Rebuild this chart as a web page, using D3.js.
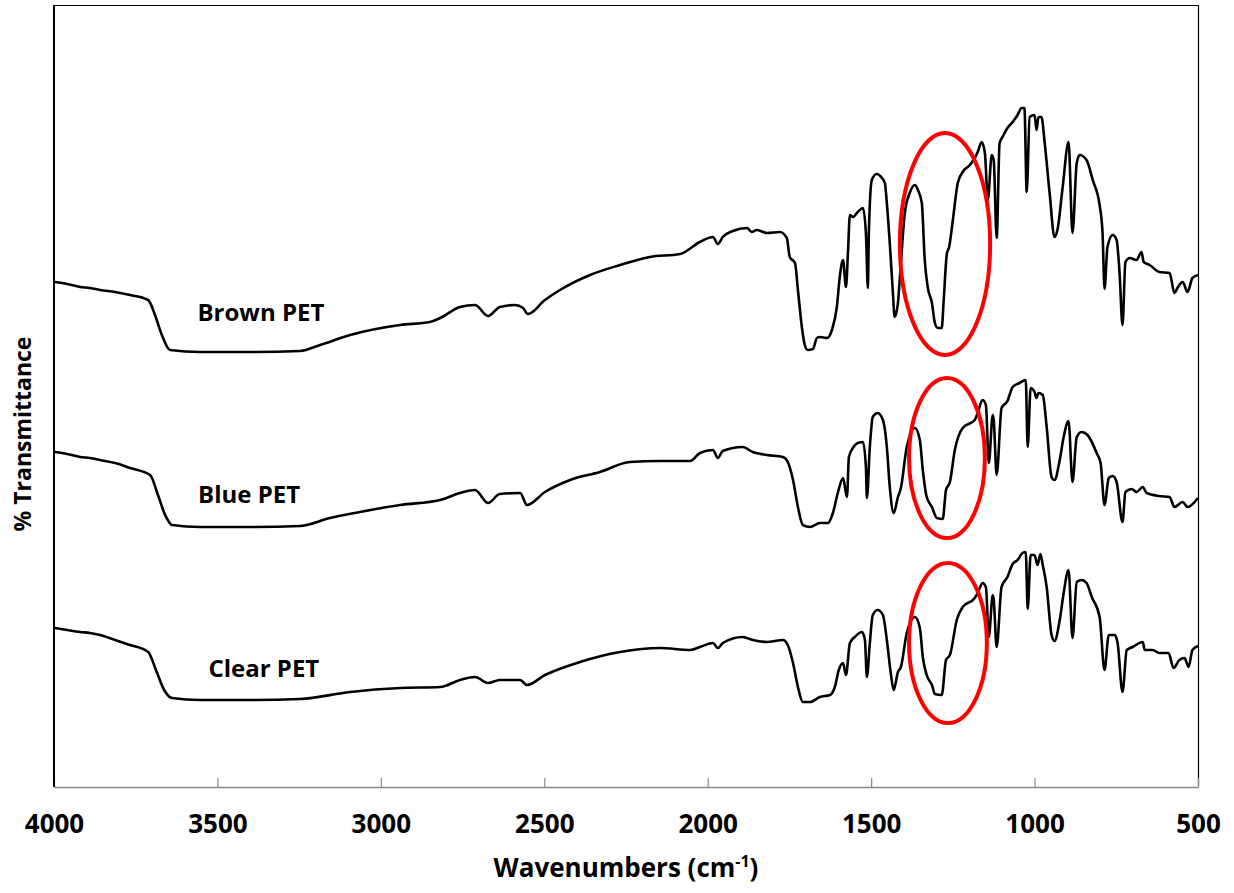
<!DOCTYPE html>
<html>
<head>
<meta charset="utf-8">
<script src="https://cdn.jsdelivr.net/npm/d3@7/dist/d3.min.js"></script>
<style>
  body { margin: 0; background: #fff; }
  text { font-family: "Open Sans", "DejaVu Sans", sans-serif; font-weight: bold; fill: #000; }
</style>
</head>
<body>
<div id="chart"></div>
<script>
// Spektren: [Wellenzahl, %T (beliebige Einheit, mit Versatz)]
const brownPET = [
  [3997, 50.5], [3960, 50.3], [3920, 50.0], [3890, 49.9], [3859, 49.7], [3813, 49.5], [3767, 49.2], [3712, 48.7],
  [3691, 47.2], [3670, 45.2], [3645, 43.7], [3553, 43.5], [3400, 43.5], [3247, 43.6],
  [3186, 44.2], [3094, 45.2], [2941, 46.2], [2850, 46.5], [2819, 46.9], [2758, 48.0],
  [2712, 48.2], [2672, 47.1], [2636, 48.0], [2590, 48.2], [2565, 47.9], [2550, 47.3],
  [2498, 48.7], [2452, 49.7], [2360, 51.2], [2268, 52.2], [2177, 53.0], [2085, 53.3],
  [2024, 54.5], [1984, 55.0], [1969, 54.3], [1954, 55.0], [1923, 55.6], [1880, 55.9],
  [1865, 55.5], [1850, 55.7], [1819, 55.4], [1779, 55.5], [1758, 54.9], [1749, 53.0],
  [1733, 52.4], [1724, 49.7], [1712, 46.0], [1703, 44.2], [1694, 43.7], [1678, 43.8],
  [1666, 44.9], [1657, 45.0], [1635, 44.9], [1620, 45.7], [1605, 48.0], [1596, 51.0],
  [1586, 52.7], [1577, 50.0], [1571, 53.4], [1565, 57.2], [1556, 57.0], [1541, 57.5],
  [1525, 57.9], [1516, 55.4], [1510, 49.9], [1507, 55.4], [1498, 60.7], [1483, 61.3],
  [1467, 60.9], [1458, 60.4], [1452, 58.4], [1443, 54.4], [1434, 49.7], [1428, 47.0],
  [1418, 48.4], [1412, 51.0], [1397, 57.4], [1382, 59.4], [1366, 60.2], [1357, 59.7],
  [1345, 58.4], [1336, 52.7], [1327, 50.0], [1314, 48.4], [1305, 46.4], [1296, 45.9],
  [1284, 45.9], [1278, 48.7], [1268, 53.4], [1262, 53.9], [1250, 56.7], [1235, 60.4],
  [1220, 61.5], [1198, 62.2], [1183, 62.9], [1174, 63.5], [1162, 64.5], [1152, 63.4],
  [1143, 58.7], [1131, 63.2], [1125, 62.7], [1116, 54.9], [1107, 64.4], [1098, 65.0],
  [1083, 65.9], [1067, 66.5], [1052, 67.2], [1040, 67.9], [1031, 67.9], [1024, 59.5],
  [1015, 67.0], [1000, 67.2], [994, 65.7], [988, 67.0], [979, 67.0], [969, 64.4],
  [954, 59.4], [939, 55.0], [930, 55.7], [914, 60.0], [896, 64.5], [884, 55.4],
  [871, 62.4], [862, 63.2], [841, 62.7], [822, 60.7], [801, 58.2], [792, 55.4],
  [786, 49.8], [777, 54.0], [761, 55.2], [749, 54.7], [740, 51.4], [731, 46.2],
  [722, 52.5], [709, 52.9], [688, 52.7], [673, 53.5], [666, 52.5], [648, 52.2],
  [618, 51.5], [587, 51.4], [572, 49.4], [563, 49.9], [547, 50.5], [532, 49.5],
  [517, 50.9], [500, 51.2]
];

const bluePET = [
  [3997, 33.5], [3960, 33.3], [3920, 33.0], [3890, 32.9], [3859, 32.7], [3813, 32.4], [3767, 31.9], [3706, 31.2],
  [3682, 29.2], [3660, 27.2], [3639, 26.2], [3553, 26.0], [3400, 26.0], [3247, 26.1],
  [3156, 26.9], [3064, 27.5], [2941, 28.2], [2819, 28.7], [2758, 29.4], [2712, 29.7],
  [2672, 28.4], [2636, 29.3], [2574, 29.4], [2553, 28.2], [2498, 29.5], [2421, 30.7],
  [2330, 31.5], [2238, 32.5], [2146, 32.6], [2054, 32.6], [2024, 33.4], [1984, 33.7],
  [1969, 32.9], [1954, 33.6], [1893, 34.0], [1862, 33.5], [1819, 33.2], [1770, 33.0],
  [1755, 32.5], [1739, 30.7], [1724, 28.0], [1709, 26.2], [1687, 26.0], [1657, 26.4],
  [1632, 26.4], [1617, 27.4], [1602, 29.4], [1586, 30.9], [1574, 29.0], [1568, 33.0],
  [1556, 33.9], [1541, 34.4], [1525, 34.5], [1516, 32.0], [1513, 28.9], [1504, 34.0],
  [1495, 37.0], [1480, 37.4], [1464, 36.7], [1452, 34.0], [1443, 30.0], [1431, 27.4],
  [1418, 29.0], [1409, 29.9], [1391, 34.0], [1366, 35.9], [1351, 34.7], [1342, 31.7],
  [1330, 29.0], [1314, 28.0], [1299, 26.9], [1281, 26.8], [1271, 29.7], [1259, 30.5],
  [1244, 33.7], [1220, 35.9], [1183, 36.7], [1174, 37.4], [1159, 38.7], [1149, 38.2],
  [1140, 32.4], [1128, 37.2], [1125, 36.7], [1116, 31.2], [1101, 37.9], [1083, 38.6],
  [1067, 40.0], [1046, 40.4], [1027, 40.7], [1021, 34.0], [1012, 39.9], [1000, 39.5],
  [994, 38.9], [988, 39.4], [975, 39.2], [963, 36.0], [948, 31.0], [939, 30.7],
  [923, 32.7], [911, 35.0], [896, 36.6], [884, 30.5], [871, 35.0], [856, 35.5],
  [838, 35.2], [810, 33.4], [798, 32.4], [786, 28.2], [773, 30.9], [761, 31.1],
  [749, 30.5], [731, 26.5], [722, 29.5], [703, 29.8], [688, 29.5], [669, 30.0],
  [657, 29.4], [618, 29.1], [587, 29.0], [572, 28.0], [547, 28.5], [532, 28.0],
  [500, 28.9]
];

const clearPET = [
  [3997, 15.9], [3960, 15.7], [3920, 15.5], [3890, 15.4], [3859, 15.2], [3813, 14.7], [3767, 14.2], [3712, 13.5],
  [3688, 11.7], [3663, 9.7], [3639, 8.9], [3553, 8.7], [3400, 8.7], [3247, 8.8],
  [3094, 9.5], [2941, 9.9], [2819, 10.0], [2758, 10.7], [2712, 11.0], [2672, 10.4],
  [2636, 10.7], [2574, 10.7], [2553, 10.2], [2498, 11.2], [2391, 12.5], [2268, 13.5],
  [2146, 13.9], [2054, 13.7], [2024, 14.0], [1984, 14.4], [1969, 13.9], [1954, 14.4],
  [1893, 15.0], [1862, 14.7], [1819, 14.5], [1770, 14.7], [1755, 14.2], [1739, 12.4],
  [1724, 10.0], [1709, 8.5], [1687, 8.5], [1657, 9.0], [1626, 9.2], [1611, 10.0],
  [1599, 11.7], [1586, 12.4], [1577, 11.2], [1565, 14.4], [1550, 15.0], [1528, 15.5],
  [1519, 14.7], [1513, 11.0], [1504, 14.4], [1495, 17.2], [1480, 17.7], [1464, 17.2],
  [1452, 14.7], [1440, 11.4], [1431, 9.7], [1418, 11.5], [1409, 12.0], [1391, 15.4],
  [1366, 17.0], [1351, 15.9], [1342, 13.0], [1330, 11.2], [1314, 10.2], [1305, 9.3],
  [1284, 9.2], [1271, 12.7], [1259, 13.2], [1238, 16.7], [1220, 18.0], [1183, 18.9],
  [1174, 19.4], [1159, 20.4], [1149, 20.0], [1140, 15.0], [1128, 19.2], [1125, 18.7],
  [1116, 14.0], [1101, 20.0], [1083, 21.0], [1067, 22.3], [1052, 22.7], [1037, 23.4],
  [1027, 23.5], [1021, 17.8], [1012, 23.2], [1000, 23.2], [991, 22.2], [982, 23.3],
  [975, 22.2], [963, 20.0], [948, 15.2], [939, 14.6], [923, 16.7], [911, 19.4],
  [896, 21.7], [884, 14.9], [871, 20.5], [856, 20.7], [841, 20.4], [825, 19.0],
  [801, 17.0], [786, 11.7], [773, 15.2], [755, 15.2], [746, 14.4], [731, 9.5],
  [718, 13.7], [700, 14.0], [669, 14.5], [663, 13.7], [639, 13.7], [618, 13.4],
  [590, 13.4], [575, 11.9], [557, 12.7], [541, 12.9], [529, 12.0], [517, 13.7],
  [500, 14.1]
];

const spectra = [brownPET, bluePET, clearPET];

// Beschriftungen: [Text, Wellenzahl (Mitte), %T (Grundlinie)]
const labels = [
  ["Brown PET", 3367, 46.6],
  ["Blue PET", 3403, 28.4],
  ["Clear PET", 3358, 11.0]
];

// rote Ellipsen: [Wellenzahl, %T, Radius Wellenzahl, Radius %T]
const circles = [
  [1274, 54.3, 138, 11.1],
  [1268, 32.9, 116, 8.0],
  [1265, 14.4, 119, 8.0]
];

const xTicks = [4000, 3500, 3000, 2500, 2000, 1500, 1000, 500];

const W = 1234, H = 893;
const mLeft = 54, mRight = 1198, mTop = 5, mBottom = 787;

const svg = d3.select("#chart").append("svg")
  .attr("width", W)
  .attr("height", H);

const x = d3.scaleLinear().domain([4000, 500]).range([mLeft, mRight]);
const y = d3.scaleLinear().domain([0, 78.2]).range([mBottom, mTop]);

// Rahmen oben / rechts
svg.append("line").attr("x1", mLeft).attr("x2", mRight).attr("y1", mTop + 0.5).attr("y2", mTop + 0.5)
  .attr("stroke", "#000").attr("stroke-width", 1.2);
svg.append("line").attr("x1", mRight + 0.5).attr("x2", mRight + 0.5).attr("y1", mTop).attr("y2", mBottom)
  .attr("stroke", "#000").attr("stroke-width", 1.2);

// x-Achse (grau, Ticks nach innen)
const xAxis = svg.append("g")
  .attr("transform", `translate(0,${mBottom})`)
  .call(d3.axisBottom(x).tickValues(xTicks).tickFormat(d3.format("d"))
    .tickSizeInner(-9).tickSizeOuter(0).tickPadding(28));
xAxis.select(".domain").attr("stroke", "#888").attr("stroke-width", 1.5);
xAxis.selectAll(".tick line").attr("stroke", "#888").attr("stroke-width", 1.2);
xAxis.selectAll(".tick text")
  .attr("font-size", 26)
  .attr("font-family", "'Open Sans', sans-serif")
  .attr("font-weight", "bold")
  .attr("fill", "#000");

// linke Achse
svg.append("line").attr("x1", mLeft).attr("x2", mLeft).attr("y1", mTop).attr("y2", mBottom)
  .attr("stroke", "#000").attr("stroke-width", 2);

// Spektren
const line = d3.line().x(d => x(d[0])).y(d => y(d[1])).curve(d3.curveMonotoneX);
spectra.forEach(s => {
  svg.append("path")
    .datum(s)
    .attr("d", line)
    .attr("fill", "none")
    .attr("stroke", "#000")
    .attr("stroke-width", 2.6)
    .attr("stroke-linejoin", "round");
});

// Ellipsen
circles.forEach(c => {
  svg.append("ellipse")
    .attr("cx", x(c[0]))
    .attr("cy", y(c[1]))
    .attr("rx", Math.abs(x(c[0] - c[2]) - x(c[0])))
    .attr("ry", Math.abs(y(c[1] + c[3]) - y(c[1])))
    .attr("fill", "none")
    .attr("stroke", "#ff0000")
    .attr("stroke-width", 4);
});

// Beschriftungen
labels.forEach(l => {
  svg.append("text")
    .attr("x", x(l[1]))
    .attr("y", y(l[2]))
    .attr("text-anchor", "middle")
    .attr("font-size", 24)
    .text(l[0]);
});

// Achsentitel
const xt = svg.append("text")
  .attr("x", (mLeft + mRight) / 2)
  .attr("y", 877)
  .attr("text-anchor", "middle")
  .attr("font-size", 26);
xt.append("tspan").text("Wavenumbers (cm");
xt.append("tspan").attr("font-size", 16).attr("dy", -10).text("-1");
xt.append("tspan").attr("dy", 10).text(")");

svg.append("text")
  .attr("transform", `translate(31,${(mTop + mBottom) / 2 + 38}) rotate(-90)`)
  .attr("text-anchor", "middle")
  .attr("font-size", 23)
  .text("% Transmittance");
</script>
</body>
</html>
